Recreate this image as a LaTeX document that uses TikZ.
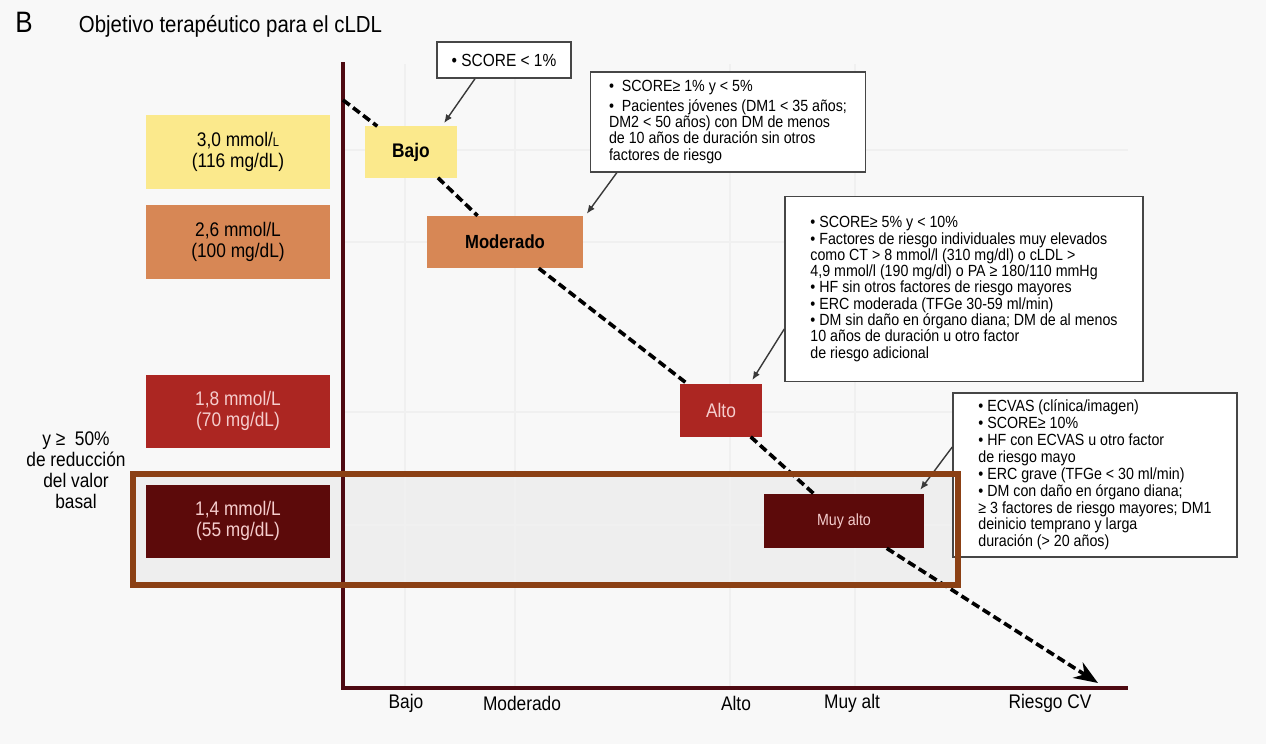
\documentclass[tikz,border=0pt]{standalone}
\usepackage{fontspec}
\setmainfont{Liberation Sans}[FakeStretch=0.88]
\usetikzlibrary{arrows.meta}

\definecolor{bgcol}{RGB}{248,248,248}
\definecolor{cyel}{RGB}{251,233,140}
\definecolor{cora}{RGB}{215,135,85}
\definecolor{cred}{RGB}{172,38,34}
\definecolor{cdark}{RGB}{92,10,10}
\definecolor{caxis}{RGB}{78,10,18}
\definecolor{chl}{RGB}{139,64,20}
\definecolor{cpink}{RGB}{245,205,205}

\begin{document}
\begin{tikzpicture}[x=0.025cm,y=-0.025cm,
	level/.style ={rectangle, minimum width=4.575cm, minimum height=1.825cm, align=center, font=\fontsize{14}{14.5}\selectfont},
	risk/.style ={rectangle, align=center, font=\fontsize{14}{14}\selectfont},
	note/.style ={rectangle, draw=gray!55!black, line width=1pt, fill=white, align=left, inner sep=0pt, font=\fontsize{11.5}{11.6}\selectfont},
	callout/.style ={-{Latex[length=6pt,width=5pt]}, draw=gray!45!black, line width=1pt},
	riskline/.style ={dash pattern=on 6pt off 3pt, line width=2.6pt},
	grid/.style ={black!6, line width=0.8pt},
	axlabel/.style ={font=\fontsize{14}{14}\selectfont}]
		% background and frame
		\useasboundingbox[fill=bgcol] (0,0) rectangle (1266,744);
		\fill[black!8, opacity=.7] (133,474) rectangle (958,585);
		\foreach \gx in {405,515,730,855} \draw[grid] (\gx,64) -- (\gx,686);
		\foreach \gy in {150,242,412,525} \draw[grid] (345,\gy) -- (1128,\gy);
		% title
		\node[font=\fontsize{21}{21}\selectfont] (lbl) at (24,22) {B};
		\node[anchor=west, font=\fontsize{16.5}{16.5}\selectfont] (title) at (74,26) {Objetivo terapéutico para el cLDL};
		% axes
		\coordinate (ytop) at (343,62);
		\coordinate (origin) at (343,688);
		\coordinate (xend) at (1128,688);
		\draw[caxis, line width=2.2pt] (ytop) -- (origin) -- (xend);
		\node[axlabel] (xb) at (406,703) {Bajo};
		\node[axlabel] (xm) at (522,703) {Moderado};
		\node[axlabel] (xa) at (736,703) {Alto};
		\node[axlabel] (xv) at (852,703) {Muy alt};
		\node[axlabel] (xr) at (1050,703) {Riesgo CV};
		% target levels
		\node[level, fill=cyel] (l30) at (238,152) {3,0 mmol/{\fontsize{9}{9}\selectfont L}\\(116 mg/dL)};
		\node[level, fill=cora] (l26) at (238,242) {2,6 mmol/L\\(100 mg/dL)};
		\node[level, fill=cred, text=cpink] (l18) at (238,411) {1,8 mmol/L\\(70 mg/dL)};
		\node[level, fill=cdark, text=cpink] (l14) at (238,521) {1,4 mmol/L\\(55 mg/dL)};
		\node[align=center, font=\fontsize{14}{15}\selectfont] (red) at (76,470) {y ≥~ 50\%\\de reducción\\del valor\\basal};
		% risk boxes
		\node[risk, fill=cyel, minimum width=2.3cm, minimum height=1.275cm, font=\fontsize{14}{14}\selectfont\bfseries] (bajo) at (411,152) {Bajo};
		\node[risk, fill=cora, minimum width=3.875cm, minimum height=1.3cm, font=\fontsize{13.5}{14}\selectfont\bfseries] (mod) at (505,242) {Moderado};
		\node[risk, fill=cred, text=cpink, minimum width=2.05cm, minimum height=1.325cm] (alto) at (721,410) {Alto};
		\node[risk, fill=cdark, text=cpink, minimum width=4cm, minimum height=1.35cm, font=\fontsize{11.5}{12}\selectfont] (muy) at (844,521) {Muy alto};
		\coordinate (start) at (343,100);
		\coordinate (tip) at (1098,683);
		\draw[riskline] (start) -- (bajo);
		\draw[riskline] (bajo) -- (mod);
		\draw[riskline] (mod) -- (alto);
		\draw[riskline] (alto) -- (muy);
		\draw[riskline,-{Stealth[length=17pt,width=13pt]}] (muy) -- (tip);
		% notes
		\node[note, minimum width=3.35cm, minimum height=0.9cm, font=\fontsize{12.5}{13}\selectfont] (c1) at (504,60) {• SCORE < 1\%};
		\node[note, minimum width=6.875cm, minimum height=2.5cm] (c2) at (728,122) {•~ SCORE≥ 1\% y < 5\%\\[2pt]
			•~ Pacientes jóvenes (DM1 < 35 años;\\DM2 < 50 años) con DM de menos\\de 10 años de duración sin otros\\factores de riesgo};
		\node[note, minimum width=8.95cm, minimum height=4.625cm] (c3) at (964,289) {• SCORE≥ 5\% y < 10\%\\
			• Factores de riesgo individuales muy elevados\\como CT > 8 mmol/l (310 mg/dl) o cLDL >\\
			4,9 mmol/l (190 mg/dl) o PA ≥ 180/110 mmHg\\• HF sin otros factores de riesgo mayores\\
			• ERC moderada (TFGe 30-59 ml/min)\\• DM sin daño en órgano diana; DM de al menos\\
			10 años de duración u otro factor\\de riesgo adicional};
		\node[note, minimum width=7.1cm, minimum height=4.1cm, font=\fontsize{11.5}{12}\selectfont] (c4) at (1095,475) {• ECVAS (clínica/imagen)\\• SCORE≥ 10\%\\
			• HF con ECVAS u otro factor\\de riesgo mayo\\• ERC grave (TFGe < 30 ml/min)\\
			• DM con daño en órgano diana;\\≥ 3 factores de riesgo mayores; DM1\\deinicio temprano y larga\\duración (> 20 años)};
		\draw[callout] ([xshift=-0.725cm]c1.south) -- ([xshift=-0.33cm,yshift=0.08cm]bajo.north east);
		\draw[callout] ([xshift=0.675cm]c2.south west) -- ([xshift=0.1cm,yshift=0.05cm]mod.north east);
		\draw[callout] ([yshift=-1cm]c3.west) -- ([xshift=-0.25cm,yshift=0.08cm]alto.north east);
		\draw[callout] ([yshift=0.7cm]c4.west) -- ([xshift=-0.1cm,yshift=0.1cm]muy.north east);
		% highlight
		\draw[chl, line width=4.3pt] (133,474) rectangle (958,585);
	\end{tikzpicture}
\end{document}
